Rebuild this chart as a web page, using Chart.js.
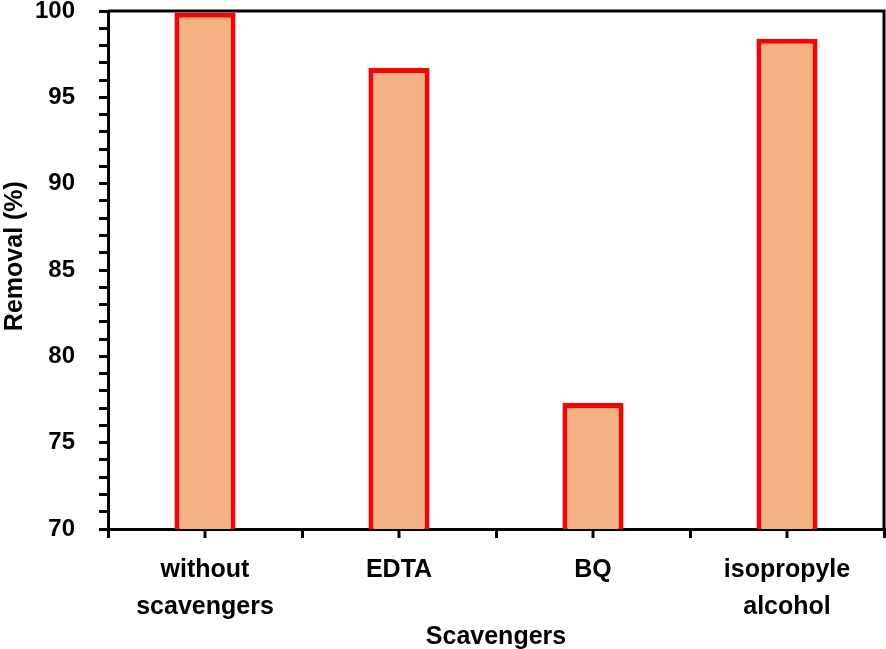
<!DOCTYPE html>
<html>
<head>
<meta charset="utf-8">
<script src="https://cdn.jsdelivr.net/npm/chart.js@4"></script>
<style>
  html, body { margin: 0; padding: 0; background: #fff; }
  #wrap { width: 886px; height: 649px; position: relative; }
</style>
</head>
<body>
<div id="wrap"><canvas id="removal-chart"></canvas></div>
<script>
// categories and values
const scavengers = [["without", "scavengers"], "EDTA", "BQ", ["isopropyle", "alcohol"]];
const removal = [99.9, 96.7, 77.3, 98.4];
const yMin = 70, yMax = 100;

const FONT = "'Liberation Sans', Arial, sans-serif";

// box frame (top + right) and the tick marks under each bar
const framePlugin = {
  id: "frame",
  afterDraw(chart) {
    const ctx = chart.ctx, a = chart.chartArea, x = chart.scales.x;
    ctx.save();
    ctx.strokeStyle = "#000";
    ctx.lineWidth = 3;
    ctx.beginPath();
    ctx.moveTo(a.left, a.top);
    ctx.lineTo(a.right, a.top);
    ctx.lineTo(a.right, a.bottom);
    ctx.stroke();
    for (let i = 0; i < scavengers.length; i++) {
      const px = x.getPixelForValue(i);
      ctx.beginPath();
      ctx.moveTo(px, a.bottom);
      ctx.lineTo(px, a.bottom + 9);
      ctx.stroke();
    }
    ctx.restore();
  }
};

new Chart("removal-chart", {
  type: "bar",
  data: {
    labels: scavengers,
    datasets: [{
      label: "Removal (%)",
      data: removal,
      backgroundColor: "#F4B183",
      borderColor: "#FF0000",
      borderWidth: 5,
      borderSkipped: false,
      barPercentage: 0.315,
      categoryPercentage: 1
    }]
  },
  options: {
    responsive: true,
    maintainAspectRatio: false,
    animation: false,
    layout: { padding: { top: 11, right: 2, left: 0, bottom: 0 } },
    plugins: {
      legend: { display: false },
      tooltip: { enabled: false }
    },
    scales: {
      x: {
        afterFit(s) { s.height = 120; },
        grid: { offset: true, drawOnChartArea: false, color: "#000", lineWidth: 3, tickLength: 9 },
        border: { display: true, color: "#000", width: 3 },
        ticks: { color: "#000", padding: 14, maxRotation: 0, font: { family: FONT, size: 25, weight: "bold", lineHeight: 1.48 } },
        title: { display: true, text: "Scavengers", color: "#000", padding: { top: 0, bottom: -3 }, font: { family: FONT, size: 25, weight: "bold" } }
      },
      y: {
        min: yMin,
        max: yMax,
        afterFit(s) { s.width = 108; s.paddingTop = 0; s.paddingBottom = 0; },
        grid: { drawOnChartArea: false, color: "#000", lineWidth: 3, tickLength: 9 },
        border: { display: true, color: "#000", width: 3 },
        ticks: {
          stepSize: 1,
          autoSkip: false,
          color: "#000",
          padding: 24,
          font: { family: FONT, size: 24, weight: "bold" },
          callback: v => (v % 5 === 0 ? v : "")
        },
        title: { display: true, text: "    Removal (%)", color: "#000", padding: { top: 0, bottom: 0 }, font: { family: FONT, size: 25, weight: "bold" } }
      }
    }
  },
  plugins: [framePlugin]
});
</script>
</body>
</html>
